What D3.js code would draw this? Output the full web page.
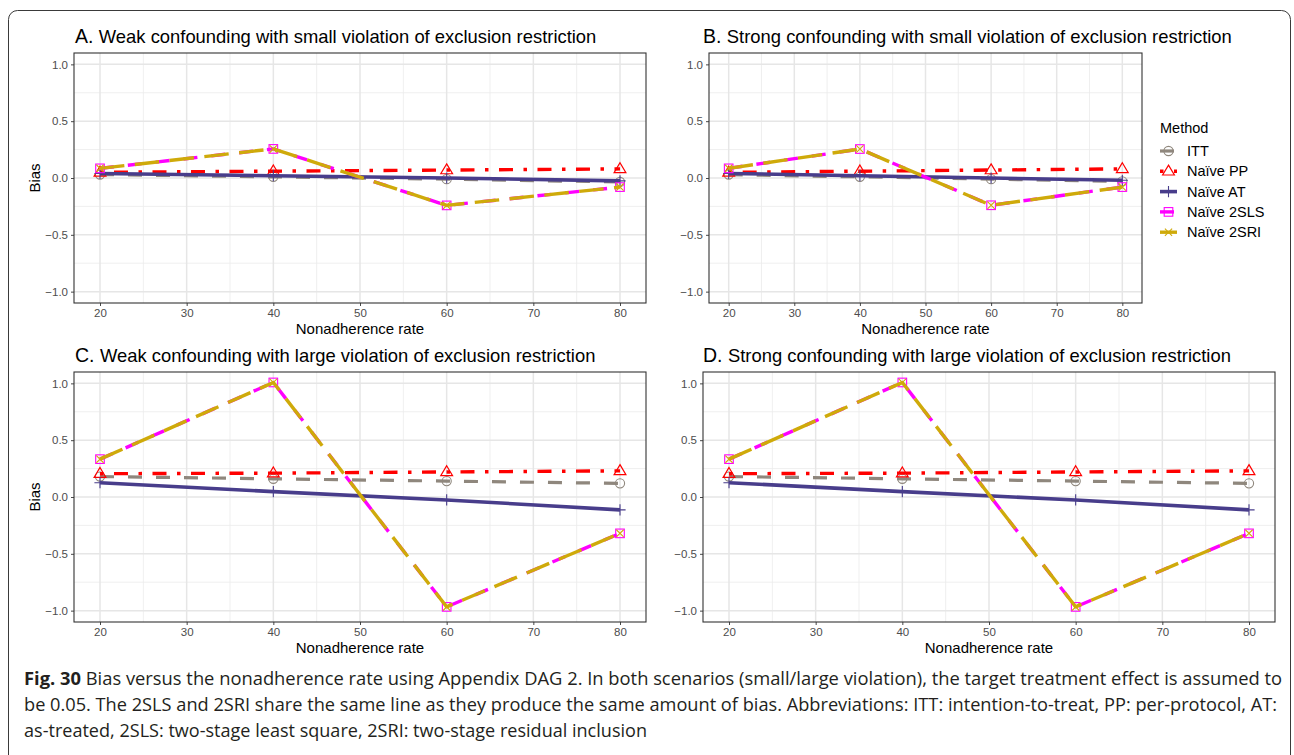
<!DOCTYPE html>
<html>
<head>
<meta charset="utf-8">
<script src="https://cdn.jsdelivr.net/npm/d3@7"></script>
<style>
  html, body { margin: 0; padding: 0; background: #fff; }
  svg { display: block; }
</style>
</head>
<body>
<svg id="fig" width="1294" height="755"></svg>
<script>
// Nonadherence rates (x) and bias per method, one array per panel
const rates = [20, 40, 60, 80];
const xTicks = [20, 30, 40, 50, 60, 70, 80];
const yTicks = [-1.0, -0.5, 0.0, 0.5, 1.0];

const methods = ["ITT", "Naïve PP", "Naïve AT", "Naïve 2SLS", "Naïve 2SRI"];

// Panel A: weak confounding, small violation
const A_itt  = [0.03, 0.01, -0.01, -0.035];
const A_pp   = [0.05, 0.06, 0.07, 0.08];
const A_at   = [0.04, 0.02, 0.00, -0.025];
const A_2sls = [0.085, 0.256, -0.241, -0.08];
const A_2sri = [0.085, 0.256, -0.241, -0.08];

// Panel B: strong confounding, small violation
const B_itt  = [0.03, 0.01, -0.01, -0.03];
const B_pp   = [0.05, 0.06, 0.07, 0.08];
const B_at   = [0.04, 0.02, 0.00, -0.02];
const B_2sls = [0.085, 0.255, -0.24, -0.08];
const B_2sri = [0.085, 0.255, -0.24, -0.08];

// Panel C: weak confounding, large violation
const C_itt  = [0.18, 0.16, 0.14, 0.12];
const C_pp   = [0.205, 0.21, 0.22, 0.23];
const C_at   = [0.126, 0.047, -0.026, -0.113];
const C_2sls = [0.333, 1.008, -0.967, -0.32];
const C_2sri = [0.333, 1.008, -0.967, -0.32];

// Panel D: strong confounding, large violation
const D_itt  = [0.18, 0.16, 0.14, 0.12];
const D_pp   = [0.205, 0.21, 0.22, 0.23];
const D_at   = [0.126, 0.047, -0.026, -0.113];
const D_2sls = [0.333, 1.008, -0.967, -0.32];
const D_2sri = [0.333, 1.008, -0.967, -0.32];

const titles = [
  "Weak confounding with small violation of exclusion restriction",
  "Strong confounding with small violation of exclusion restriction",
  "Weak confounding with large violation of exclusion restriction",
  "Strong confounding with large violation of exclusion restriction"
];
const letters = ["A.", "B.", "C.", "D."];

const captionLines = [
  ["Fig. 30", " Bias versus the nonadherence rate using Appendix DAG 2. In both scenarios (small/large violation), the target treatment effect is assumed to"],
  ["", "be 0.05. The 2SLS and 2SRI share the same line as they produce the same amount of bias. Abbreviations: ITT: intention-to-treat, PP: per-protocol, AT:"],
  ["", "as-treated, 2SLS: two-stage least square, 2SRI: two-stage residual inclusion"]
];

// ---- styling per method ----
const U = 3.5; // dash unit
const styles = {
  "ITT":        { color: "#8f877d", dash: [4*U, 4*U].join(","), width: 3.2, shape: "circle" },
  "Naïve PP":   { color: "#ff0000", dash: [1*U, 3*U, 4*U, 3*U].join(","), width: 3.4, shape: "triangle" },
  "Naïve AT":   { color: "#483d8b", dash: null, width: 3.6, shape: "plus" },
  "Naïve 2SLS": { color: "#ff00ff", dash: [4*U, 4*U].join(","), width: 3.4, shape: "square" },
  "Naïve 2SRI": { color: "#cfaa0a", dash: [7*U, 3*U].join(","), width: 3.4, shape: "cross" }
};

const panels = [
  { letter: letters[0], title: titles[0], titleX: 75,  left: 74,  right: 646,  top: 53,  bottom: 303, yLabel: true,
    series: [A_itt, A_pp, A_at, A_2sls, A_2sri] },
  { letter: letters[1], title: titles[1], titleX: 703, left: 709, right: 1142, top: 53,  bottom: 303, yLabel: false,
    series: [B_itt, B_pp, B_at, B_2sls, B_2sri] },
  { letter: letters[2], title: titles[2], titleX: 75,  left: 74,  right: 646,  top: 372, bottom: 622, yLabel: true,
    series: [C_itt, C_pp, C_at, C_2sls, C_2sri] },
  { letter: letters[3], title: titles[3], titleX: 703, left: 703, right: 1275, top: 372, bottom: 622, yLabel: false,
    series: [D_itt, D_pp, D_at, D_2sls, D_2sri] }
];

const svg = d3.select("#fig");
const FONT = "'Liberation Sans', Arial, Helvetica, sans-serif";

// outer figure frame
svg.append("rect")
  .attr("x", 8.5).attr("y", 10.5)
  .attr("width", 1282).attr("height", 800)
  .attr("rx", 9).attr("ry", 9)
  .attr("fill", "none").attr("stroke", "#3a3a3a").attr("stroke-width", 1);

function drawShape(g, shape, cx, cy, color) {
  if (shape === "circle") {
    g.append("circle").attr("cx", cx).attr("cy", cy).attr("r", 4.6)
      .attr("fill", "none").attr("stroke", color).attr("stroke-width", 1.1);
  } else if (shape === "triangle") {
    const s = 6.2;
    g.append("path")
      .attr("d", `M${cx},${cy - s} L${cx + s * 0.95},${cy + s * 0.6} L${cx - s * 0.95},${cy + s * 0.6} Z`)
      .attr("fill", "none").attr("stroke", color).attr("stroke-width", 1.2);
  } else if (shape === "plus") {
    const s = 5.6;
    g.append("path")
      .attr("d", `M${cx - s},${cy} L${cx + s},${cy} M${cx},${cy - s} L${cx},${cy + s}`)
      .attr("fill", "none").attr("stroke", color).attr("stroke-width", 1.1);
  } else if (shape === "square") {
    const s = 4.3;
    g.append("rect").attr("x", cx - s).attr("y", cy - s).attr("width", 2 * s).attr("height", 2 * s)
      .attr("fill", "none").attr("stroke", color).attr("stroke-width", 1.1);
  } else if (shape === "cross") {
    const s = 3.6;
    g.append("path")
      .attr("d", `M${cx - s},${cy - s} L${cx + s},${cy + s} M${cx - s},${cy + s} L${cx + s},${cy - s}`)
      .attr("fill", "none").attr("stroke", color).attr("stroke-width", 1.1);
  }
}

panels.forEach(p => {
  const x = d3.scaleLinear().domain([17, 83]).range([p.left, p.right]);
  const y = d3.scaleLinear().domain([-1.1, 1.1]).range([p.bottom, p.top]);
  const g = svg.append("g");

  // panel background
  g.append("rect").attr("x", p.left).attr("y", p.top)
    .attr("width", p.right - p.left).attr("height", p.bottom - p.top).attr("fill", "#fff");

  // minor grid
  const xMinor = d3.range(25, 80, 10);
  const yMinor = [-0.75, -0.25, 0.25, 0.75];
  g.selectAll(".xminor").data(xMinor).join("line")
    .attr("x1", d => x(d)).attr("x2", d => x(d)).attr("y1", p.top).attr("y2", p.bottom)
    .attr("stroke", "#ebebeb").attr("stroke-width", 0.8);
  g.selectAll(".yminor").data(yMinor).join("line")
    .attr("y1", d => y(d)).attr("y2", d => y(d)).attr("x1", p.left).attr("x2", p.right)
    .attr("stroke", "#ebebeb").attr("stroke-width", 0.8);
  // major grid
  g.selectAll(".xmajor").data(xTicks).join("line")
    .attr("x1", d => x(d)).attr("x2", d => x(d)).attr("y1", p.top).attr("y2", p.bottom)
    .attr("stroke", "#e6e6e6").attr("stroke-width", 1.5);
  g.selectAll(".ymajor").data(yTicks).join("line")
    .attr("y1", d => y(d)).attr("y2", d => y(d)).attr("x1", p.left).attr("x2", p.right)
    .attr("stroke", "#e6e6e6").attr("stroke-width", 1.5);

  // axes
  const fmt = d => (d < 0 ? "\u2212" : "") + Math.abs(d).toFixed(1);
  const xAxis = g.append("g").attr("transform", `translate(0,${p.bottom})`)
    .call(d3.axisBottom(x).tickValues(xTicks).tickSize(3).tickPadding(3));
  const yAxis = g.append("g").attr("transform", `translate(${p.left},0)`)
    .call(d3.axisLeft(y).tickValues(yTicks).tickFormat(fmt).tickSize(3).tickPadding(3));
  [xAxis, yAxis].forEach(a => {
    a.select(".domain").remove();
    a.selectAll(".tick line").attr("stroke", "#333").attr("stroke-width", 0.9);
    a.selectAll(".tick text").attr("fill", "#4d4d4d")
      .style("font-family", FONT).style("font-size", "11.5px");
  });

  // series: lines then markers, in legend order
  const lineGen = d3.line().x((d, i) => x(rates[i])).y(d => y(d));
  methods.forEach((m, k) => {
    const st = styles[m];
    const vals = p.series[k];
    g.append("path").datum(vals)
      .attr("d", lineGen)
      .attr("fill", "none")
      .attr("stroke", st.color)
      .attr("stroke-width", st.width)
      .attr("stroke-dasharray", st.dash)
      .attr("stroke-linejoin", "round");
    vals.forEach((v, i) => drawShape(g, st.shape, x(rates[i]), y(v), st.color));
  });

  // panel border
  g.append("rect").attr("x", p.left).attr("y", p.top)
    .attr("width", p.right - p.left).attr("height", p.bottom - p.top)
    .attr("fill", "none").attr("stroke", "#333").attr("stroke-width", 1.1);

  // title
  const t = g.append("text")
    .attr("x", p.titleX).attr("y", p.top - 10)
    .style("font-family", FONT).style("font-size", "18.4px").attr("fill", "#000");
  t.append("tspan").text(p.letter + " ").style("font-size", "19.5px");
  t.append("tspan").text(p.title);

  // axis titles
  g.append("text")
    .attr("x", (p.left + p.right) / 2).attr("y", p.bottom + 31)
    .attr("text-anchor", "middle")
    .style("font-family", FONT).style("font-size", "15px").attr("fill", "#000")
    .text("Nonadherence rate");
  if (p.yLabel) {
    g.append("text")
      .attr("transform", `translate(40,${(p.top + p.bottom) / 2}) rotate(-90)`)
      .attr("text-anchor", "middle")
      .style("font-family", FONT).style("font-size", "15px").attr("fill", "#000")
      .text("Bias");
  }
});

// legend
const leg = svg.append("g").attr("transform", "translate(1160,0)");
leg.append("text").attr("x", 0).attr("y", 133)
  .style("font-family", FONT).style("font-size", "14.5px").text("Method");
methods.forEach((m, i) => {
  const st = styles[m];
  const cy = 151 + i * 20.3;
  leg.append("line").attr("x1", 0).attr("x2", 17).attr("y1", cy).attr("y2", cy)
    .attr("stroke", st.color).attr("stroke-width", st.width)
    .attr("stroke-dasharray", st.dash);
  drawShape(leg, st.shape, 8.5, cy, st.color);
  leg.append("text").attr("x", 27).attr("y", cy + 5)
    .style("font-family", FONT).style("font-size", "14.5px").text(m);
});

// caption
const capX = 24;
const capW = [1258, 1253, 623];
captionLines.forEach((ln, i) => {
  const t = svg.append("text")
    .attr("x", capX).attr("y", 685 + i * 26)
    .attr("textLength", capW[i]).attr("lengthAdjust", "spacingAndGlyphs")
    .style("font-family", "'Open Sans', 'Noto Sans', sans-serif")
    .style("font-size", "17.5px").attr("fill", "#231f20");
  if (ln[0]) t.append("tspan").style("font-weight", "bold").text(ln[0]);
  t.append("tspan").text(ln[1]);
});
</script>
</body>
</html>
